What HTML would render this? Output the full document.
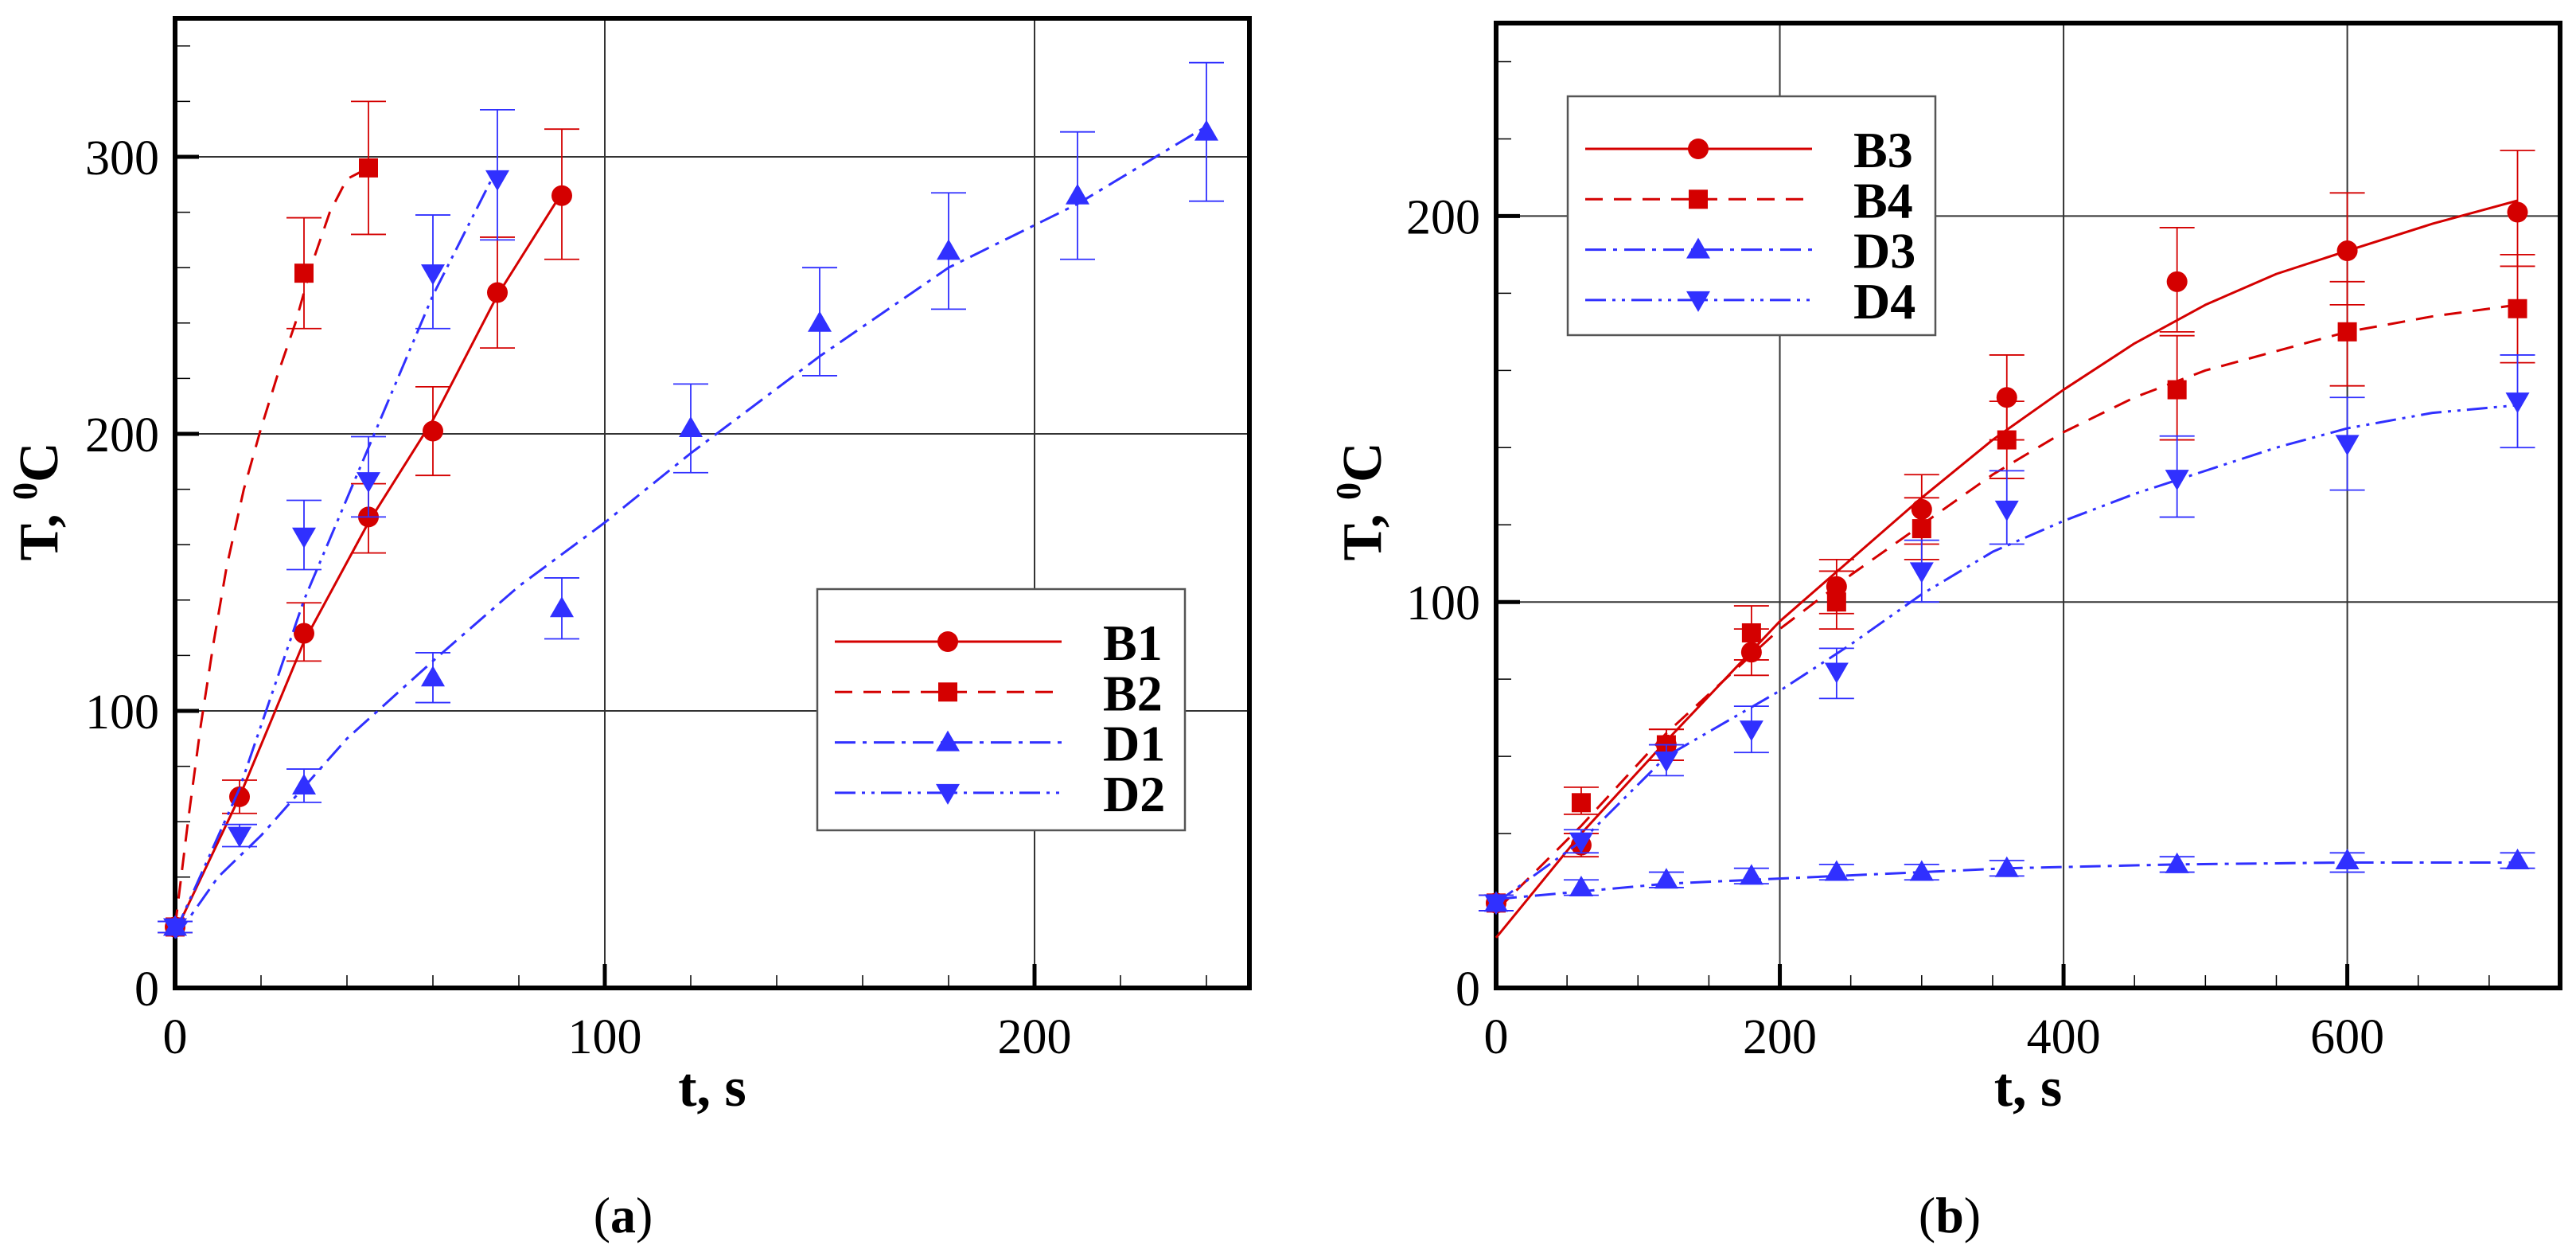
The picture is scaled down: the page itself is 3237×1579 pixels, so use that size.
<!DOCTYPE html>
<html><head><meta charset="utf-8">
<style>
html,body{margin:0;padding:0;background:#fff;}
svg{display:block;}
text{font-family:"Liberation Serif",serif;fill:#000;}
</style></head>
<body>
<svg id="fig" width="3237" height="1579" viewBox="0 0 3237 1579" xmlns="http://www.w3.org/2000/svg"></svg>
<script>
// ---------- Panel (a) data ----------
const aB1x=[0,15,30,45,60,75,90];
const aB1y=[22,69,128,170,201,251,286];
const aB1lo=[20,63,118,157,185,231,263];
const aB1hi=[24,75,139,182,217,271,310];
const aB1lineX=[0,15,30,45,60,75,90];
const aB1lineY=[20,69,125,168,205,250,287];

const aB2x=[0,30,45];
const aB2y=[22,258,296];
const aB2lo=[20,238,272];
const aB2hi=[24,278,320];
const aB2lineX=[0,3,6,9,12,16,20,24,28,32,36,40,45];
const aB2lineY=[22,60,95,125,152,180,202,222,240,262,280,292,296];

const aD1x=[0,30,60,90,120,150,180,210,240];
const aD1y=[22,73,112,137,202,240,266,286,309];
const aD1lo=[20,67,103,126,186,221,245,263,284];
const aD1hi=[24,79,121,148,218,260,287,309,334];
const aD1lineX=[0,10,20,40,60,80,100,120,150,180,210,240];
const aD1lineY=[18,40,55,90,118,145,168,193,228,260,283,311];

const aD2x=[0,15,30,45,60,75];
const aD2y=[22,55,163,183,258,292];
const aD2lo=[20,51,151,170,238,270];
const aD2hi=[24,59,176,199,279,317];
const aD2lineX=[0,15,30,45,60,75];
const aD2lineY=[20,72,140,195,250,296];

const aXTicks=[0,100,200];
const aYTicks=[0,100,200,300];

// ---------- Panel (b) data ----------
const bB3x=[0,60,120,180,240,300,360,480,600,720];
const bB3y=[22,37,63,87,104,124,153,183,191,201];
const bB3lo=[20,34,59,81,97,115,142,170,177,187];
const bB3hi=[24,40,67,93,111,133,164,197,206,217];
const bB3lineX=[0,60,120,200,250,300,350,400,450,500,550,600,660,720];
const bB3lineY=[13,40,64,95,111,127,142,155,167,177,185,191,198,204];

const bB4x=[0,60,120,180,240,300,360,480,600,720];
const bB4y=[22,48,63,92,100,119,142,155,170,176];
const bB4lo=[20,45,59,85,93,111,132,142,156,162];
const bB4hi=[24,52,67,99,108,127,152,169,183,190];
const bB4lineX=[0,60,120,200,250,300,350,400,450,500,550,600,660,720];
const bB4lineY=[20,42,66,93,107,120,133,144,153,160,165,170,174,177];

const bD3x=[0,60,120,180,240,300,360,480,600,720];
const bD3y=[22,26,28,29,30,30,31,32,33,33];
const bD3lo=[20,24,26,27,28,28,29,30,30,31];
const bD3hi=[24,28,30,31,32,32,33,34,35,35];
const bD3lineX=[0,60,120,240,360,480,600,720];
const bD3lineY=[23,25,27,29,31,32,32.5,32.5];

const bD4x=[0,60,120,180,240,300,360,480,600,720];
const bD4y=[22,38,59,67,82,108,124,132,141,152];
const bD4lo=[20,35,55,61,75,100,115,122,129,140];
const bD4hi=[24,41,63,73,88,116,134,143,153,164];
const bD4lineX=[0,60,120,200,250,300,350,400,450,500,550,600,660,720];
const bD4lineY=[22,38,60,77,89,102,113,121,128,134,140,145,149,151];

const bXTicks=[0,200,400,600];
const bYTicks=[0,100,200];

// ---------- helpers ----------
const NS="http://www.w3.org/2000/svg";
const svg=document.getElementById('fig');
const RED="#d40000", BLUE="#3030ff";
function mk(tag,attrs,parent){const e=document.createElementNS(NS,tag);for(const k in attrs)e.setAttribute(k,attrs[k]);(parent||svg).appendChild(e);return e;}

function makeAxes(cfg){
  const sx=v=>cfg.x0+(v-cfg.xmin)/(cfg.xmax-cfg.xmin)*(cfg.x1-cfg.x0);
  const sy=v=>cfg.y0-(v-cfg.ymin)/(cfg.ymax-cfg.ymin)*(cfg.y0-cfg.y1);
  return {sx,sy};
}

function drawPanel(cfg,series,legend){
  const {sx,sy}=makeAxes(cfg);
  const g=mk('g',{});
  
  
  cfg.xTicks.forEach(v=>{ if(v>cfg.xmin){const l=mk('line',{x1:sx(v),x2:sx(v),y1:cfg.y1,y2:cfg.y0,stroke:'#333','stroke-width':2},g);}});
  cfg.yTicks.forEach(v=>{ if(v>cfg.ymin){const l=mk('line',{x1:cfg.x0,x2:cfg.x1,y1:sy(v),y2:sy(v),stroke:'#333','stroke-width':2},g);}});
  for(let v=cfg.xmin;v<=cfg.xmax;v+=cfg.xMinor){ const l=mk('line',{x1:sx(v),x2:sx(v),y1:cfg.y0,y2:cfg.y0-16,stroke:'#000','stroke-width':1.5},g);}
  for(let v=cfg.ymin;v<=cfg.ymax;v+=cfg.yMinor){ const l=mk('line',{x1:cfg.x0,x2:cfg.x0+19,y1:sy(v),y2:sy(v),stroke:'#000','stroke-width':1.5},g);}
  cfg.xTicks.forEach(v=>{
    const l=mk('line',{x1:sx(v),x2:sx(v),y1:cfg.y0,y2:cfg.y0-30,stroke:'#000','stroke-width':5},g);
    
    const t=mk('text',{x:sx(v),y:cfg.y0+82,'text-anchor':'middle','font-size':62},g);t.textContent=v;
    
  });
  cfg.yTicks.forEach(v=>{
    const l=mk('line',{x1:cfg.x0,x2:cfg.x0+30,y1:sy(v),y2:sy(v),stroke:'#000','stroke-width':5},g);
    
    const t=mk('text',{x:cfg.x0-20,y:sy(v)+22,'text-anchor':'end','font-size':62},g);t.textContent=v;
    
  });
  const fr=mk('rect',{x:cfg.x0,y:cfg.y1,width:cfg.x1-cfg.x0,height:cfg.y0-cfg.y1,fill:'none',stroke:'#000','stroke-width':6},g);
  
  const xt=mk('text',{x:(cfg.x0+cfg.x1)/2,y:cfg.y0+148,'text-anchor':'middle','font-size':70,'font-weight':'bold'},g);
  xt.textContent='t, s';
  
  const yt=mk('text',{x:0,y:0,'text-anchor':'middle','font-size':70,'font-weight':'bold',transform:`translate(${cfg.yTitleX},${cfg.yTitleY}) rotate(-90)`},g);
  yt.innerHTML='T, <tspan dy="-26" font-size="44">0</tspan><tspan dy="26">C</tspan>';
  
  const cap=mk('text',{x:cfg.capX,y:1548,'text-anchor':'middle','font-size':64},g);
  cap.innerHTML='(<tspan font-weight="bold">'+cfg.cap+'</tspan>)';
  

  series.forEach(s=>{
    const sg=mk('g',{},g);
    
    
    const pts=s.lx.map((v,i)=>sx(v)+','+sy(s.ly[i])).join(' ');
    const pl=mk('polyline',{points:pts,fill:'none',stroke:s.color,'stroke-width':3,'stroke-dasharray':s.dash,'stroke-linejoin':'round'},sg);
    
    
    s.x.forEach((v,i)=>{
      const cx=sx(v);
      const eb=mk('path',{d:`M${cx},${sy(s.lo[i])}V${sy(s.hi[i])}M${cx-22},${sy(s.lo[i])}H${cx+22}M${cx-22},${sy(s.hi[i])}H${cx+22}`,stroke:s.color,'stroke-width':1.8,fill:'none'},sg);
      
      
      const m=marker(s.marker,cx,sy(s.y[i]),s.color,sg);
      
      
    });
  });
  const lg=mk('g',{},g);
  
  
  const lb=mk('rect',{x:legend.x,y:legend.y,width:legend.w,height:legend.h,fill:'#fff',stroke:'#555','stroke-width':2.5},lg);
  
  series.forEach((s,i)=>{
    const yy=legend.y+66+i*63.3;
    const eg=mk('g',{},lg);
    
    
    mk('line',{x1:legend.x+22,x2:legend.x+307,y1:yy,y2:yy,stroke:s.color,'stroke-width':3,'stroke-dasharray':s.dash},eg);
    marker(s.marker,legend.x+164,yy,s.color,eg);
    const t=mk('text',{x:legend.x+359,y:yy+23,'font-size':64,'font-weight':'bold'},eg);
    t.textContent=s.name;
  });
}

function marker(type,x,y,c,parent){
  if(type==='circle') return mk('circle',{cx:x,cy:y,r:13,fill:c},parent);
  if(type==='square') return mk('rect',{x:x-12,y:y-12,width:24,height:24,fill:c},parent);
  if(type==='up') return mk('polygon',{points:`${x},${y-15} ${x+15},${y+11} ${x-15},${y+11}`,fill:c},parent);
  return mk('polygon',{points:`${x},${y+15} ${x+15},${y-11} ${x-15},${y-11}`,fill:c},parent);
}

const DASH="22 14", DASHDOT="26 9 5 9", DASHDOTDOT="26 8 4 8 4 8";

drawPanel(
  {name:'chart-a',x0:220,x1:1570,y0:1241,y1:23,xmin:0,xmax:250,ymin:0,ymax:350,xMinor:20,yMinor:20,
   xTicks:aXTicks,yTicks:aYTicks,yTitleX:72,yTitleY:630,capX:783,cap:'a'},
  [
   {name:'B1',color:RED,dash:'none',marker:'circle',x:aB1x,y:aB1y,lo:aB1lo,hi:aB1hi,lx:aB1lineX,ly:aB1lineY},
   {name:'B2',color:RED,dash:DASH,marker:'square',x:aB2x,y:aB2y,lo:aB2lo,hi:aB2hi,lx:aB2lineX,ly:aB2lineY},
   {name:'D1',color:BLUE,dash:DASHDOT,marker:'up',x:aD1x,y:aD1y,lo:aD1lo,hi:aD1hi,lx:aD1lineX,ly:aD1lineY},
   {name:'D2',color:BLUE,dash:DASHDOTDOT,marker:'down',x:aD2x,y:aD2y,lo:aD2lo,hi:aD2hi,lx:aD2lineX,ly:aD2lineY}
  ],
  {x:1027,y:740,w:462,h:303}
);

drawPanel(
  {name:'chart-b',x0:1880,x1:3217,y0:1241,y1:29,xmin:0,xmax:750,ymin:0,ymax:250,xMinor:50,yMinor:20,
   xTicks:bXTicks,yTicks:bYTicks,yTitleX:1735,yTitleY:630,capX:2450,cap:'b'},
  [
   {name:'B3',color:RED,dash:'none',marker:'circle',x:bB3x,y:bB3y,lo:bB3lo,hi:bB3hi,lx:bB3lineX,ly:bB3lineY},
   {name:'B4',color:RED,dash:DASH,marker:'square',x:bB4x,y:bB4y,lo:bB4lo,hi:bB4hi,lx:bB4lineX,ly:bB4lineY},
   {name:'D3',color:BLUE,dash:DASHDOT,marker:'up',x:bD3x,y:bD3y,lo:bD3lo,hi:bD3hi,lx:bD3lineX,ly:bD3lineY},
   {name:'D4',color:BLUE,dash:DASHDOTDOT,marker:'down',x:bD4x,y:bD4y,lo:bD4lo,hi:bD4hi,lx:bD4lineX,ly:bD4lineY}
  ],
  {x:1970,y:121,w:462,h:300}
);
</script>
</body></html>
